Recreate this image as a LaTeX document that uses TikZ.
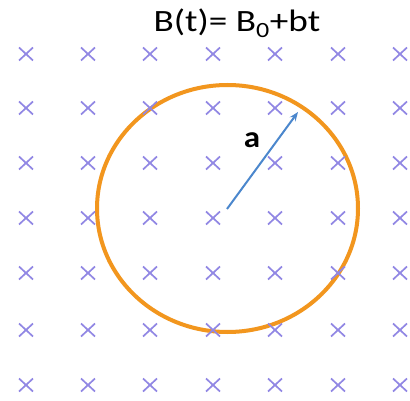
\documentclass[tikz,border=0pt]{standalone}
\usepackage{fontspec}
\setmainfont{Carlito}
\usetikzlibrary{arrows.meta}
\definecolor{crosscol}{RGB}{145,135,228}
\definecolor{ringcol}{RGB}{242,150,30}
\definecolor{arrowcol}{RGB}{75,135,205}
\tikzset{
  fieldx/.style={draw=crosscol, line width=1.7pt},
  ring/.style={draw=ringcol, line width=4pt},
  radius arrow/.style={draw=arrowcol, line width=2pt, -{Stealth[length=9pt,width=7pt]}},
}
\begin{document}
\begin{tikzpicture}[x=1pt,y=-1pt]
\useasboundingbox (0,0) rectangle (410,401);
\fill[white] (0,0) rectangle (410,401);
\node[font=\fontsize{31}{36}\selectfont, inner sep=0pt, anchor=base, xscale=1.2] (title) at (237,32) {B(t)= B\textsubscript{0}+bt};
\draw[ring] (227.5,208.5) ellipse [x radius=130.5, y radius=123.5];
\foreach \cx in {26,88,150,213,275,338,400} {
  \foreach \cy in {54,108,163,218,273,330,385} {
    \draw[fieldx] (\cx-7,\cy-6.5) -- (\cx+7,\cy+6.5) (\cx-7,\cy+6.5) -- (\cx+7,\cy-6.5);
  }
}
\coordinate (center) at (227,209);
\coordinate (rim) at (298,112);
\draw[radius arrow] (center) -- (rim);
\node[font=\fontsize{30}{34}\selectfont\bfseries, inner sep=0pt, anchor=base, xscale=1.1] (alabel) at (252,148) {a};
\end{tikzpicture}
\end{document}
